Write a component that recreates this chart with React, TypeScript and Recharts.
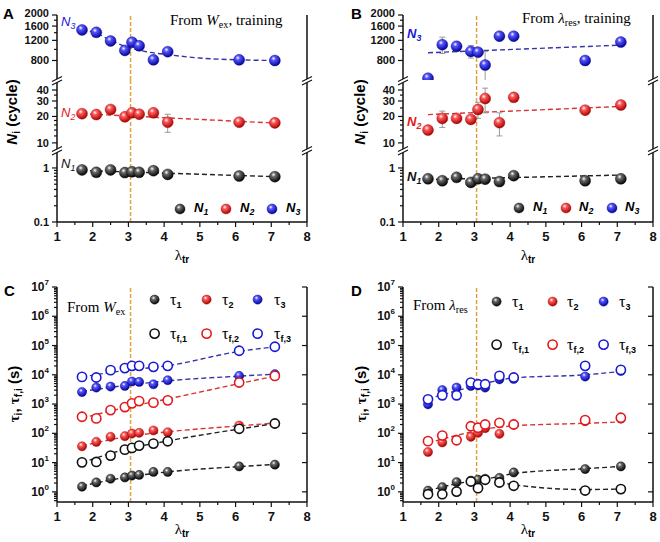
import React from 'react';
import { ComposedChart, Scatter, Line, XAxis, YAxis, ReferenceLine, ErrorBar } from 'recharts';

// shared x positions (lambda_tr) for every series
const lambdaTr = [1.7, 2.1, 2.5, 2.9, 3.1, 3.3, 3.7, 4.1, 6.1, 7.1];
const transitionX = 3.06;

// panel A - from W_ex, training
const aN3 = [1480, 1410, 1185, 980, 1155, 1075, 810, 955, 810, 800];
const aN3Err = [0, 0, 90, 0, 0, 0, 0, 0, 0, 0];
const aN2 = [21.5, 21, 24, 19.8, 22, 21.2, 22, 17.2, 17.2, 16.9];
const aN2Err = [0, 0, 0, 0, 0, 0, 0, 4, 0, 0];
const aN1 = [0.92, 0.83, 0.92, 0.82, 0.85, 0.83, 0.89, 0.76, 0.71, 0.69];
const aN3FitX = [1.7, 2.1, 2.5, 3.0, 3.5, 4.1, 5.0, 6.1, 7.1];
const aN3FitY = [1480, 1390, 1200, 1040, 955, 900, 840, 810, 800];
const aN2FitX = [1.7, 7.1];
const aN2FitY = [21.5, 16.8];
const aN1FitX = [1.7, 7.1];
const aN1FitY = [0.9, 0.69];

// panel B - from lambda_res, training
const bN3 = [560, 1100, 1065, 960, 945, 730, 1305, 1305, 800, 1160];
const bN3Err = [0, 180, 100, 120, 0, 230, 0, 0, 0, 0];
const bN2 = [14, 19, 19, 18.5, 24, 32, 17, 33, 23.6, 27];
const bN2Err = [0, 4, 0, 0, 5, 10, 5, 0, 0, 0];
const bN1 = [0.63, 0.58, 0.67, 0.54, 0.63, 0.62, 0.56, 0.72, 0.58, 0.63];
const bN3FitX = [1.7, 7.1];
const bN3FitY = [935, 1090];
const bN2FitX = [1.7, 7.1];
const bN2FitY = [21, 26];
const bN1FitX = [1.7, 7.1];
const bN1FitY = [0.61, 0.74];

// panel C - from W_ex
const cT1 = [1.5, 2.1, 2.8, 3.1, 3.6, 3.8, 4.8, 4.8, 7.4, 8.5];
const cT2 = [36, 51, 76, 80, 98, 104, 125, 109, 185, 217];
const cT3 = [2570, 3660, 3970, 4160, 5890, 5700, 4750, 6520, 9160, 10500];
const cTf1 = [10.2, 10.5, 17.3, 27.7, 31.8, 38, 44.6, 53.6, 143, 217];
const cTf2 = [369, 323, 622, 789, 1057, 1260, 1117, 1340, 5430, 9170];
const cTf3 = [8470, 8070, 14400, 16900, 20200, 20200, 18700, 20200, 66300, 91000];
const cFitX = [1.7, 2.9, 4.1, 6.1, 7.1];
const cT1Fit = [1.6, 3.1, 4.8, 7.3, 8.6];
const cT2Fit = [37, 75, 113, 180, 225];
const cT3Fit = [2700, 4300, 6200, 9000, 10500];
const cTf1Fit = [10, 28, 55, 140, 215];
const cTf2Fit = [330, 750, 1500, 5000, 9000];
const cTf3Fit = [8500, 14000, 20500, 63000, 90000];

// panel D - from lambda_res
const dT1 = [1.1, 1.45, 2.15, 2.4, 2.6, 2.8, 3.0, 4.6, 6.0, 7.4];
const dT2 = [23, 49, 60, 76, 104, 150, 96, 200, 260, 315];
const dT3 = [980, 3000, 3650, 4150, 4350, 3650, 7000, 7200, 8700, 13500];
const dTf1 = [0.83, 0.83, 1.02, 2.26, 1.34, 2.58, 2.09, 1.61, 1.11, 1.24];
const dTf2 = [54, 84, 58, 175, 155, 200, 229, 200, 282, 341];
const dTf3 = [1450, 1990, 1990, 5440, 4750, 4750, 9170, 8070, 20200, 14700];
const dT1FitX = [1.7, 2.5, 3.3, 4.1, 6.1, 7.1];
const dT1FitY = [1.1, 1.9, 2.7, 4.2, 6.2, 7.4];
const dTf1FitX = [3.7, 4.1, 6.1, 7.1];
const dTf1FitY = [2.1, 1.75, 1.2, 1.25];
const dT2FitX = [1.7, 2.5, 3.3, 4.1, 6.1, 7.1];
const dT2FitY = [47, 85, 140, 180, 220, 245];
const dT3FitX = [1.7, 2.9, 4.1, 6.1, 7.1];
const dT3FitY = [1500, 3800, 7800, 10000, 13000];

// axis ticks
const X_TICKS = [1, 1.5, 2, 2.5, 3, 3.5, 4, 4.5, 5, 5.5, 6, 6.5, 7, 7.5, 8];
const X_MAJ = [1, 2, 3, 4, 5, 6, 7, 8];
const TOP_TICKS = [800, 1000, 1200, 1400, 1600, 1800, 2000];
const TOP_MAJ = [800, 1200, 1600, 2000];
const MID_TICKS = [10, 12, 14, 16, 18, 20, 25, 30, 35, 40];
const MID_MAJ = [10, 20, 30, 40];
const LOW_TICKS = [0.1, 0.2, 0.3, 0.4, 0.5, 0.6, 0.7, 0.8, 0.9, 1, 2];
const LOW_MAJ = [0.1, 1];
const DEC = [1, 10, 100, 1e3, 1e4, 1e5, 1e6, 1e7];
const TAU_TICKS = [0.5, 0.6, 0.7, 0.8, 0.9, ...DEC.slice(0, -1).flatMap(d => [1, 2, 3, 4, 5, 6, 7, 8, 9].map(m => m * d)), 1e7];

const FONT = '"Liberation Sans", Arial, sans-serif';
const SERIF = '"Liberation Serif", "Times New Roman", serif';
type C = 'k' | 'r' | 'b';
const COL: Record<C, string> = { k: '#111111', r: '#e3191c', b: '#1a1ad6' };
const LIGHT: Record<C, string> = { k: '#6a6a6a', r: '#ff5a5a', b: '#5555ff' };
const DARK: Record<C, string> = { k: '#000000', r: '#a30000', b: '#00008f' };
const FIT: Record<C, string> = { k: '#222222', r: '#d83434', b: '#3434a8' };
const ORANGE = '#e2a53c';

type Side = 'left' | 'right' | 'top' | 'bottom';

function tickRenderer(side: Side, majors: number[], fmt?: (v: number) => React.ReactNode, fs = 12) {
    return (p: any) => {
        const { x, y } = p;
        const v = p.payload?.value;
        const maj = majors.includes(v);
        const L = maj ? 5 : 3;
        const txt = { fontFamily: FONT, fontWeight: 700, fontSize: fs, fill: '#111' };
        let line;
        let label = null;
        if (side === 'left') {
            line = <line x1={x - L} y1={y} x2={x} y2={y} stroke="#111" strokeWidth={1.2} />;
            // the very top label sits a touch higher, as in the original figure
            const ly = v === majors[majors.length - 1] && v === 2000 ? y - 2 : y;
            if (maj && fmt) label = <text x={x - 8} y={ly} textAnchor="end" dominantBaseline="central" {...txt}>{fmt(v)}</text>;
        } else if (side === 'right') {
            line = <line x1={x} y1={y} x2={x - L} y2={y} stroke="#111" strokeWidth={1.2} />;
        } else if (side === 'top') {
            line = <line x1={x} y1={y} x2={x} y2={y + L} stroke="#111" strokeWidth={1.2} />;
        } else {
            line = <line x1={x} y1={y} x2={x} y2={y + L} stroke="#111" strokeWidth={1.2} />;
            if (maj && fmt) label = <text x={x} y={y + 19} textAnchor="middle" {...txt}>{fmt(v)}</text>;
        }
        return <g>{line}{label}</g>;
    };
}

const powFmt = (v: number) => (
    <>
        <tspan>10</tspan>
        <tspan dy={-5} fontSize={8}>{Math.round(Math.log10(v))}</tspan>
    </>
);

interface SeriesCfg { vals: number[]; c: C; open?: boolean; err?: number[] }
interface FitCfg { xs: number[]; ys: number[]; c: C }

interface SegProps {
    left: number; top: number; width: number; height: number;
    leftW: number; rightW: number; mTop: number; bottomH: number;
    showTop: boolean; showBottom: boolean;
    yDomain: [number, number]; yTicks: number[]; yMajors: number[];
    yFmt: (v: number) => React.ReactNode; rightTicks: boolean; yFs: number;
    series: SeriesCfg[]; fits: FitCfg[]; r: number;
}

function Seg(s: SegProps) {
    const axisLine = { stroke: '#111', strokeWidth: 1.5 };
    return (
        <div style={{ position: 'absolute', left: s.left, top: s.top }}>
            <ComposedChart width={s.width} height={s.height} margin={{ top: s.mTop, right: 0, bottom: 0, left: 0 }}>
                <XAxis xAxisId="b" type="number" dataKey="x" domain={[1, 8]} ticks={X_TICKS} interval={0}
                    allowDataOverflow hide={!s.showBottom} height={s.bottomH} tickSize={0} tickMargin={0}
                    tickLine={false} axisLine={axisLine} tick={tickRenderer('bottom', X_MAJ, v => v, 13)} />
                <XAxis xAxisId="t" orientation="top" type="number" dataKey="x" domain={[1, 8]} ticks={X_MAJ} interval={0}
                    allowDataOverflow hide={!s.showTop} height={0} tickSize={0} tickMargin={0}
                    tickLine={false} axisLine={axisLine} tick={tickRenderer('top', X_MAJ)} />
                <YAxis yAxisId="l" type="number" dataKey="y" scale="log" domain={s.yDomain} ticks={s.yTicks} interval={0}
                    allowDataOverflow width={s.leftW} tickSize={0} tickMargin={0} tickLine={false}
                    axisLine={axisLine} tick={tickRenderer('left', s.yMajors, s.yFmt, s.yFs)} />
                <YAxis yAxisId="r" orientation="right" type="number" dataKey="y" scale="log" domain={s.yDomain}
                    ticks={s.yMajors} interval={0} allowDataOverflow width={s.rightW} tickSize={0} tickMargin={0}
                    tickLine={false} axisLine={axisLine}
                    tick={s.rightTicks ? tickRenderer('right', s.yMajors) : false} />
                <ReferenceLine xAxisId="b" yAxisId="l" x={transitionX} stroke={ORANGE} strokeWidth={1.5} strokeDasharray="4 2" />
                {s.fits.map((f, i) => (
                    <Line key={`f${i}`} xAxisId="b" yAxisId="l" data={f.xs.map((x, j) => ({ x, y: f.ys[j] }))}
                        dataKey="y" type="monotone" stroke={FIT[f.c]} strokeWidth={1.4} strokeDasharray="5 3"
                        dot={false} activeDot={false} isAnimationActive={false} />
                ))}
                {s.series.map((ser, i) => (
                    <Scatter key={`s${i}`} xAxisId="b" yAxisId="l" dataKey="y" isAnimationActive={false}
                        data={lambdaTr.map((x, j) => ({ x, y: ser.vals[j], e: ser.err ? ser.err[j] : 0 }))}
                        shape={(p: any) => ser.open
                            ? <circle cx={p.cx} cy={p.cy} r={s.r} fill="#fff" stroke={COL[ser.c]} strokeWidth={1.6} />
                            : <circle cx={p.cx} cy={p.cy} r={s.r} fill={`url(#ball-${ser.c})`} stroke={DARK[ser.c]} strokeWidth={0.4} />}>
                        {ser.err && <ErrorBar dataKey="e" direction="y" width={3} stroke="#9a9a9a" strokeWidth={1} />}
                    </Scatter>
                ))}
            </ComposedChart>
        </div>
    );
}

const Sub = ({ children, s = 0.68 }: { children: React.ReactNode; s?: number }) => (
    <span style={{ fontSize: `${s}em`, verticalAlign: '-0.3em' }}>{children}</span>
);

const Txt = ({ x, y, children, style }: { x: number; y: number; children: React.ReactNode; style?: React.CSSProperties }) => (
    <div style={{ position: 'absolute', left: x, top: y, transform: 'translateY(-50%)', whiteSpace: 'nowrap', lineHeight: 1, fontFamily: FONT, ...style }}>
        {children}
    </div>
);

const VTxt = ({ x, y, children }: { x: number; y: number; children: React.ReactNode }) => (
    <div style={{ position: 'absolute', left: x, top: y, transform: 'translate(-50%,-50%) rotate(-90deg)', whiteSpace: 'nowrap', lineHeight: 1, fontFamily: FONT, fontWeight: 700, fontSize: 15 }}>
        {children}
    </div>
);

const Mark = ({ x, y, c, open, r = 5 }: { x: number; y: number; c: C; open?: boolean; r?: number }) => (
    <svg style={{ position: 'absolute', left: x - r - 2, top: y - r - 2 }} width={2 * r + 4} height={2 * r + 4}>
        {open
            ? <circle cx={r + 2} cy={r + 2} r={r} fill="#fff" stroke={COL[c]} strokeWidth={1.6} />
            : <circle cx={r + 2} cy={r + 2} r={r} fill={`url(#ball-${c})`} stroke={DARK[c]} strokeWidth={0.4} />}
    </svg>
);

const Brk = ({ x, y }: { x: number; y: number }) => (
    <svg style={{ position: 'absolute', left: x - 7, top: y - 7 }} width={14} height={14}>
        <polygon points="2,8.5 12,3.5 12,7 2,12" fill="#fff" />
        <line x1={2} y1={8.5} x2={12} y2={3.5} stroke="#111" strokeWidth={1.2} />
        <line x1={2} y1={12} x2={12} y2={7} stroke="#111" strokeWidth={1.2} />
    </svg>
);

const XTitle = ({ x, y }: { x: number; y: number }) => (
    <div style={{ position: 'absolute', left: x, top: y, transform: 'translate(-50%,-50%)', whiteSpace: 'nowrap', lineHeight: 1 }}>
        <span style={{ fontFamily: SERIF, fontSize: 15 }}>λ</span>
        <span style={{ fontFamily: FONT, fontWeight: 700, fontSize: 10, verticalAlign: '-0.3em' }}>tr</span>
    </div>
);

const Tau = ({ sub }: { sub: string }) => (
    <span>
        <span style={{ fontFamily: SERIF, fontSize: 16 }}>τ</span>
        <span style={{ fontFamily: FONT, fontWeight: 700, fontSize: 9, verticalAlign: '-0.4em' }}>{sub}</span>
    </span>
);

function nPanel(left: number, leftW: number, rightW: number, n3: number[], n3e: number[], n2: number[], n2e: number[], n1: number[],
    f3: FitCfg, f2: FitCfg, f1: FitCfg) {
    const base = { left, width: 330, leftW, rightW, r: 5.5, rightTicks: false, yFs: 11, yFmt: (v: number) => String(v) };
    return (
        <>
            <Seg {...base} top={0} height={80} mTop={15} bottomH={0} showTop showBottom={false}
                yDomain={[540, 2000]} yTicks={TOP_TICKS} yMajors={TOP_MAJ}
                series={[{ vals: n3, c: 'b', err: n3e }]} fits={[f3]} />
            <Seg {...base} top={80} height={70} mTop={0} bottomH={0} showTop={false} showBottom={false}
                yDomain={[8.3, 52]} yTicks={MID_TICKS} yMajors={MID_MAJ}
                series={[{ vals: n2, c: 'r', err: n2e }]} fits={[f2]} />
            <Seg {...base} top={150} height={110} mTop={0} bottomH={38} showTop={false} showBottom
                yDomain={[0.1, 2.15]} yTicks={LOW_TICKS} yMajors={LOW_MAJ}
                series={[{ vals: n1, c: 'k' }]} fits={[f1]} />
        </>
    );
}

function tauPanel(left: number, leftW: number, rightW: number, series: SeriesCfg[], fits: FitCfg[]) {
    return (
        <Seg left={left} top={270} width={330} height={272} leftW={leftW} rightW={rightW} mTop={17} bottomH={40}
            showTop showBottom yDomain={[0.45, 1e7]} yTicks={TAU_TICKS} yMajors={DEC} yFmt={powFmt} yFs={12}
            rightTicks r={4.6} series={series} fits={fits} />
    );
}

export default function App() {
    const it = { fontStyle: 'italic' } as React.CSSProperties;
    return (
        <div style={{ position: 'absolute', left: 0, top: 0, width: 660, height: 542, background: '#fff', overflow: 'hidden', fontFamily: FONT }}>
            <svg width={0} height={0} style={{ position: 'absolute' }}>
                <defs>
                    {(['k', 'r', 'b'] as C[]).map(c => (
                        <radialGradient key={c} id={`ball-${c}`} cx="38%" cy="32%" r="70%">
                            <stop offset="0%" stopColor="#ffffff" />
                            <stop offset="28%" stopColor={LIGHT[c]} />
                            <stop offset="100%" stopColor={DARK[c]} />
                        </radialGradient>
                    ))}
                </defs>
            </svg>

            {nPanel(0, 57, 23, aN3, aN3Err, aN2, aN2Err, aN1,
                { xs: aN3FitX, ys: aN3FitY, c: 'b' }, { xs: aN2FitX, ys: aN2FitY, c: 'r' }, { xs: aN1FitX, ys: aN1FitY, c: 'k' })}
            {nPanel(330, 73, 7, bN3, bN3Err, bN2, bN2Err, bN1,
                { xs: bN3FitX, ys: bN3FitY, c: 'b' }, { xs: bN2FitX, ys: bN2FitY, c: 'r' }, { xs: bN1FitX, ys: bN1FitY, c: 'k' })}
            {tauPanel(0, 57, 23, [
                { vals: cTf3, c: 'b', open: true }, { vals: cT3, c: 'b' },
                { vals: cTf2, c: 'r', open: true }, { vals: cT2, c: 'r' },
                { vals: cTf1, c: 'k', open: true }, { vals: cT1, c: 'k' },
            ], [
                { xs: cFitX, ys: cT1Fit, c: 'k' }, { xs: cFitX, ys: cT2Fit, c: 'r' }, { xs: cFitX, ys: cT3Fit, c: 'b' },
                { xs: cFitX, ys: cTf1Fit, c: 'k' }, { xs: cFitX, ys: cTf2Fit, c: 'r' }, { xs: cFitX, ys: cTf3Fit, c: 'b' },
            ])}
            {tauPanel(330, 73, 7, [
                { vals: dT3, c: 'b' }, { vals: dTf3, c: 'b', open: true },
                { vals: dT2, c: 'r' }, { vals: dTf2, c: 'r', open: true },
                { vals: dT1, c: 'k' }, { vals: dTf1, c: 'k', open: true },
            ], [
                { xs: dT1FitX, ys: dT1FitY, c: 'k' }, { xs: dTf1FitX, ys: dTf1FitY, c: 'k' },
                { xs: dT2FitX, ys: dT2FitY, c: 'r' }, { xs: dT3FitX, ys: dT3FitY, c: 'b' },
            ])}

            {/* axis breaks */}
            {[57, 307, 403, 653].map(x => [80, 150].map(y => <Brk key={`${x}-${y}`} x={x} y={y} />))}

            {/* panel A text */}
            <Txt x={3} y={13} style={{ fontWeight: 700, fontSize: 15 }}>A</Txt>
            <Txt x={61} y={23} style={{ ...it, fontSize: 13, color: COL.b }}>N<Sub>3</Sub></Txt>
            <Txt x={61} y={114} style={{ ...it, fontSize: 13, color: COL.r }}>N<Sub>2</Sub></Txt>
            <Txt x={61} y={165} style={{ ...it, fontSize: 13, color: COL.k }}>N<Sub>1</Sub></Txt>
            <Txt x={170} y={22} style={{ fontFamily: SERIF, fontSize: 15 }}>From <i>W</i><Sub>ex</Sub>, training</Txt>
            <Mark x={180} y={209} c="k" /><Mark x={226} y={209} c="r" /><Mark x={272} y={209} c="b" />
            <Txt x={194} y={209} style={{ ...it, fontWeight: 700, fontSize: 13 }}>N<Sub>1</Sub></Txt>
            <Txt x={240} y={209} style={{ ...it, fontWeight: 700, fontSize: 13 }}>N<Sub>2</Sub></Txt>
            <Txt x={286} y={209} style={{ ...it, fontWeight: 700, fontSize: 13 }}>N<Sub>3</Sub></Txt>
            <VTxt x={13} y={112}><i>N</i><Sub>i</Sub> (cycle)</VTxt>
            <XTitle x={182} y={256} />

            {/* panel B text */}
            <Txt x={351} y={13} style={{ fontWeight: 700, fontSize: 15 }}>B</Txt>
            <Txt x={407} y={35} style={{ ...it, fontWeight: 700, fontSize: 13, color: COL.b }}>N<Sub>3</Sub></Txt>
            <Txt x={407} y={123} style={{ ...it, fontWeight: 700, fontSize: 13, color: COL.r }}>N<Sub>2</Sub></Txt>
            <Txt x={407} y={178} style={{ ...it, fontWeight: 700, fontSize: 13, color: COL.k }}>N<Sub>1</Sub></Txt>
            <Txt x={522} y={20} style={{ fontFamily: SERIF, fontSize: 15 }}>From <i>λ</i><Sub>res</Sub>, training</Txt>
            <Mark x={519} y={208} c="k" /><Mark x={566} y={208} c="r" /><Mark x={612} y={208} c="b" />
            <Txt x={533} y={208} style={{ ...it, fontWeight: 700, fontSize: 13 }}>N<Sub>1</Sub></Txt>
            <Txt x={579} y={208} style={{ ...it, fontWeight: 700, fontSize: 13 }}>N<Sub>2</Sub></Txt>
            <Txt x={625} y={208} style={{ ...it, fontWeight: 700, fontSize: 13 }}>N<Sub>3</Sub></Txt>
            <VTxt x={361} y={112}><i>N</i><Sub>i</Sub> (cycle)</VTxt>
            <XTitle x={528} y={256} />

            {/* panel C text */}
            <Txt x={4} y={290} style={{ fontWeight: 700, fontSize: 15 }}>C</Txt>
            <Txt x={67} y={309} style={{ fontFamily: SERIF, fontSize: 15 }}>From <i>W</i><Sub>ex</Sub></Txt>
            <Mark x={155} y={300} c="k" r={4.6} /><Mark x={207} y={300} c="r" r={4.6} /><Mark x={258} y={300} c="b" r={4.6} />
            <Mark x={155} y={334} c="k" r={4.6} open /><Mark x={207} y={334} c="r" r={4.6} open /><Mark x={258} y={334} c="b" r={4.6} open />
            <Txt x={170} y={301}><Tau sub="1" /></Txt>
            <Txt x={222} y={301}><Tau sub="2" /></Txt>
            <Txt x={274} y={301}><Tau sub="3" /></Txt>
            <Txt x={170} y={335}><Tau sub="f,1" /></Txt>
            <Txt x={222} y={335}><Tau sub="f,2" /></Txt>
            <Txt x={274} y={335}><Tau sub="f,3" /></Txt>
            <VTxt x={15} y={394}><span style={{ fontFamily: SERIF }}>τ</span><Sub>i</Sub>, <span style={{ fontFamily: SERIF }}>τ</span><Sub>f,i</Sub> (s)</VTxt>
            <XTitle x={182} y={530} />

            {/* panel D text */}
            <Txt x={351} y={290} style={{ fontWeight: 700, fontSize: 15 }}>D</Txt>
            <Txt x={413} y={307} style={{ fontFamily: SERIF, fontSize: 15 }}>From <i>λ</i><Sub>res</Sub></Txt>
            <Mark x={497} y={302} c="k" r={4.6} /><Mark x={553} y={302} c="r" r={4.6} /><Mark x={604} y={302} c="b" r={4.6} />
            <Mark x={497} y={345} c="k" r={4.6} open /><Mark x={553} y={345} c="r" r={4.6} open /><Mark x={604} y={345} c="b" r={4.6} open />
            <Txt x={512} y={303}><Tau sub="1" /></Txt>
            <Txt x={567} y={303}><Tau sub="2" /></Txt>
            <Txt x={619} y={303}><Tau sub="3" /></Txt>
            <Txt x={512} y={346}><Tau sub="f,1" /></Txt>
            <Txt x={567} y={346}><Tau sub="f,2" /></Txt>
            <Txt x={619} y={346}><Tau sub="f,3" /></Txt>
            <VTxt x={362} y={394}><span style={{ fontFamily: SERIF }}>τ</span><Sub>i</Sub>, <span style={{ fontFamily: SERIF }}>τ</span><Sub>f,i</Sub> (s)</VTxt>
            <XTitle x={528} y={530} />
        </div>
    );
}
